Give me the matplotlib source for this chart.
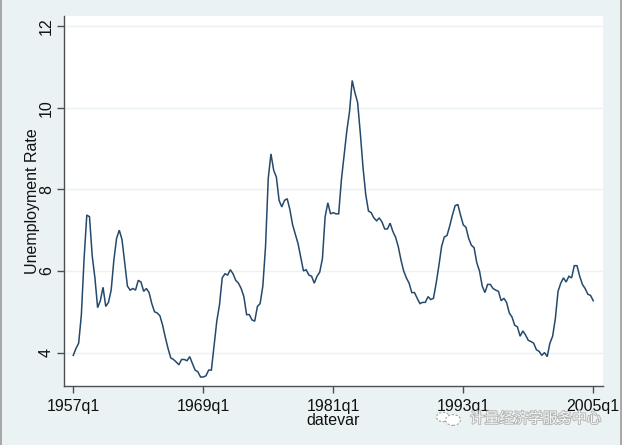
"""Unemployment rate, quarterly, Stata s2color look."""
import matplotlib
matplotlib.use("Agg")
import matplotlib.pyplot as plt
import matplotlib.patheffects as pe
from matplotlib.patches import Circle, Rectangle

# ── Data ──────────────────────────────────────────────────────────────────────
start_year = 1957
unemp = [
    3.93, 4.10, 4.23, 4.93, 6.30, 7.37, 7.33, 6.37,
    5.83, 5.10, 5.27, 5.60, 5.13, 5.23, 5.53, 6.27,
    6.80, 7.00, 6.77, 6.20, 5.63, 5.53, 5.57, 5.53,
    5.77, 5.73, 5.50, 5.57, 5.47, 5.20, 5.00, 4.97,
    4.90, 4.67, 4.37, 4.10, 3.87, 3.83, 3.77, 3.70,
    3.83, 3.83, 3.80, 3.90, 3.73, 3.57, 3.53, 3.40,
    3.40, 3.43, 3.57, 3.57, 4.17, 4.77, 5.17, 5.83,
    5.93, 5.90, 6.03, 5.93, 5.77, 5.70, 5.57, 5.37,
    4.93, 4.93, 4.80, 4.77, 5.13, 5.20, 5.63, 6.60,
    8.27, 8.87, 8.47, 8.30, 7.73, 7.57, 7.73, 7.77,
    7.50, 7.13, 6.90, 6.67, 6.33, 6.00, 6.03, 5.90,
    5.87, 5.70, 5.87, 5.97, 6.30, 7.33, 7.67, 7.40,
    7.43, 7.40, 7.40, 8.23, 8.83, 9.43, 9.90, 10.67,
    10.37, 10.13, 9.37, 8.53, 7.87, 7.47, 7.43, 7.30,
    7.23, 7.30, 7.20, 7.03, 7.03, 7.17, 6.97, 6.83,
    6.60, 6.27, 6.00, 5.83, 5.70, 5.47, 5.47, 5.33,
    5.20, 5.23, 5.23, 5.37, 5.30, 5.33, 5.70, 6.13,
    6.60, 6.83, 6.87, 7.10, 7.37, 7.60, 7.63, 7.37,
    7.13, 7.07, 6.80, 6.63, 6.57, 6.20, 6.00, 5.63,
    5.47, 5.67, 5.67, 5.57, 5.53, 5.50, 5.27, 5.33,
    5.23, 4.97, 4.87, 4.67, 4.63, 4.40, 4.53, 4.43,
    4.30, 4.27, 4.23, 4.07, 4.03, 3.93, 4.00, 3.90,
    4.23, 4.40, 4.83, 5.50, 5.70, 5.83, 5.73, 5.87,
    5.83, 6.13, 6.13, 5.87, 5.67, 5.57, 5.43, 5.40,
    5.27,
]
quarters = list(range(len(unemp)))
x_ticks = [0, 48, 96, 144, 192]
x_labels = ["1957q1", "1969q1", "1981q1", "1993q1", "2005q1"]
y_ticks = [4, 6, 8, 10, 12]

BG = "#eaf2f3"
LINE = "#24496c"
AXIS = "#4a4f52"
W, H = 622, 445

plt.rcParams["font.family"] = ["Liberation Sans", "DejaVu Sans"]
fig = plt.figure(figsize=(W / 100, H / 100), dpi=100, facecolor=BG)
ax = fig.add_axes([63.5 / W, 1 - 386 / H, (603 - 63.5) / W, (386 - 16) / H])

ax.plot(quarters, unemp, color=LINE, lw=1.1, solid_joinstyle="miter", zorder=3)

ax.set_xlim(-3.6, 195.6)
ax.set_ylim(3.18, 12.25)
ax.set_xticks(x_ticks, x_labels, fontsize=11.5, color="#111111")
ax.set_yticks(y_ticks, [str(v) for v in y_ticks], fontsize=11.5, color="#111111",
              rotation=90, va="center")
ax.tick_params(axis="x", length=5, width=1, color=AXIS, pad=4.5)
ax.tick_params(axis="y", length=5, width=1, color=AXIS, pad=2)
ax.grid(axis="y", color=BG, lw=1)
ax.set_axisbelow(True)
for side in ("top", "right"):
    ax.spines[side].set_visible(False)
for side in ("left", "bottom"):
    ax.spines[side].set_color(AXIS)
    ax.spines[side].set_linewidth(1)

ax.set_ylabel("Unemployment Rate", fontsize=11.5, color="#111111", labelpad=-1)
ax.set_xlabel("datevar", fontsize=11.5, color="#111111", labelpad=-1)

# screenshot edges
for x0 in (0, W - 2):
    fig.add_artist(Rectangle((x0 / W, 0), 2 / W, 1, transform=fig.transFigure,
                             color="#a8a8a8", lw=0))

# watermark
halo = [pe.withStroke(linewidth=1.3, foreground="#b4b4b4")]
fig.text(470 / W, 1 - 419 / H, "计量经济学服务中心", fontsize=10.5, color="#f6f6f6",
         va="center", ha="left", path_effects=halo,
         family=["Noto Sans CJK SC", "DejaVu Sans"])
for cx, cy, r in [(443, 417, 6.5), (453, 420, 7.5)]:
    fig.add_artist(Circle((cx / W, 1 - cy / H), r / W, transform=fig.transFigure,
                          facecolor="white", edgecolor="#a4a4a4", lw=0.8,
                          ls=(0, (2, 1.5))))

fig.savefig("out.png", dpi=100, facecolor=BG)
